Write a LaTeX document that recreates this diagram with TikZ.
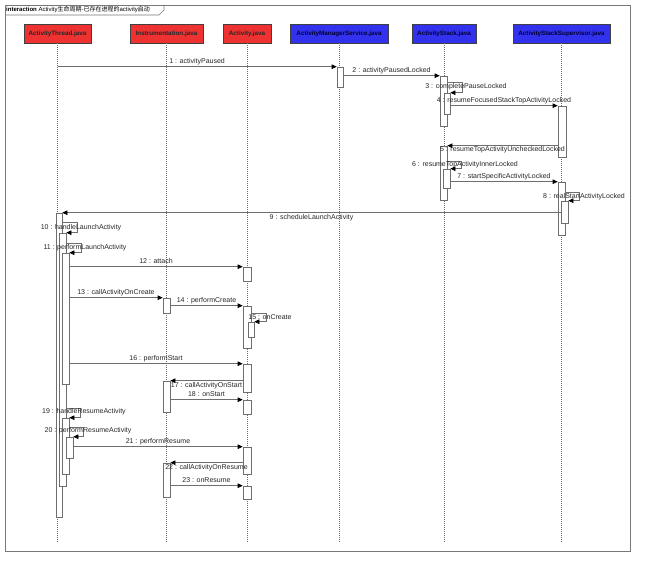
\documentclass[tikz,border=0pt]{standalone}
\usepackage{fontspec}
\setmainfont{Liberation Sans}
\newfontfamily\cjk{Noto Sans CJK SC}
\usetikzlibrary{arrows.meta,fit}
\definecolor{hdrred}{RGB}{238,50,50}
\definecolor{hdrblue}{RGB}{50,50,238}
\definecolor{linegray}{RGB}{110,110,110}
\definecolor{framegray}{RGB}{120,120,120}
\begin{document}
\begin{tikzpicture}[x=1pt,y=-1pt,
  hdr/.style={draw=black!75, line width=0.5pt, minimum height=19pt, inner sep=0pt,
    font=\fontsize{6.3}{7}\selectfont\bfseries},
  redhdr/.style={hdr, fill=hdrred, text=black!85},
  bluehdr/.style={hdr, fill=hdrblue, text=black!80!blue},
  life/.style={draw=linegray, line width=0.5pt, dash pattern=on 1pt off 1pt},
  actbox/.style={draw=linegray, fill=white, line width=0.6pt, inner sep=0pt},
  msg/.style={draw=linegray, line width=0.6pt, -{Triangle[length=5pt,width=4.5pt,color=black]}},
  lbl/.style={font=\fontsize{7}{8}\selectfont, inner sep=1pt, text height=5pt, text depth=1.5pt, text=black!85},
  frm/.style={draw=framegray, line width=0.7pt}
]
\useasboundingbox (0,0) rectangle (650,572);
% frame
\draw[frm] (5,5) rectangle (630,551);
\draw[frm] (5,15) -- (159,15) -- (164,10) -- (164,5);
\node[anchor=west, inner sep=0pt, font=\fontsize{6}{7}\selectfont] (title) at (6,10)
  {{\bfseries interaction} Activity{\cjk 生命周期-已存在进程的}activity{\cjk 启动}};

% headers
\node[redhdr, minimum width=67pt] (h1) at (57.5,33.5) {ActivityThread.java};
\node[redhdr, minimum width=73pt] (h2) at (166.5,33.5) {Instrumentation.java};
\node[redhdr, minimum width=48pt] (h3) at (247,33.5) {Activity.java};
\node[bluehdr, minimum width=98pt] (h4) at (339,33.5) {ActivityManagerService.java};
\node[bluehdr, minimum width=64pt] (h5) at (444,33.5) {ActivityStack.java};
\node[bluehdr, minimum width=97pt] (h6) at (561.5,33.5) {ActivityStackSupervisor.java};

\coordinate (bot) at (0,543);
\foreach \h in {h1,h2,h3,h4,h5,h6}
  \draw[life] (\h.south) -- (\h.south |- bot);

% activation boxes
\node[actbox, fit={(337,67)(343,87)}] (ams1) {};
\node[actbox, fit={(440,76)(447,126)}] (as1) {};
\node[actbox, fit={(444,93)(450,114)}] (as1b) {};
\node[actbox, fit={(558,106)(566,157)}] (ass1) {};
\node[actbox, fit={(440,146)(447,200)}] (as2) {};
\node[actbox, fit={(443,169)(450,188)}] (as2b) {};
\node[actbox, fit={(558,182)(565,235)}] (ass2) {};
\node[actbox, fit={(561,201)(568,223)}] (ass2b) {};
\node[actbox, fit={(56,213)(62,517)}] (at1) {};
\node[actbox, fit={(59,233)(66,486)}] (at2) {};
\node[actbox, fit={(62,253)(69,384)}] (at3) {};
\node[actbox, fit={(243,267)(251,281)}] (act1) {};
\node[actbox, fit={(163,298)(170,313)}] (in1) {};
\node[actbox, fit={(243,306)(251,348)}] (act2) {};
\node[actbox, fit={(248,322)(254,337)}] (act2b) {};
\node[actbox, fit={(243,364)(251,392)}] (act3) {};
\node[actbox, fit={(163,381)(170,412)}] (in2) {};
\node[actbox, fit={(243,400)(251,414)}] (act4) {};
\node[actbox, fit={(62,418)(69,474)}] (at4) {};
\node[actbox, fit={(66,437)(73,458)}] (at5) {};
\node[actbox, fit={(243,447)(251,474)}] (act5) {};
\node[actbox, fit={(163,463)(170,497)}] (in3) {};
\node[actbox, fit={(243,486)(251,499)}] (act6) {};

% messages
\draw[msg] (h1.south |- ams1.north west) -- node[midway, above, lbl] {1 : activityPaused} (ams1.north west);
\draw[msg] (ams1.east |- as1.north west) -- node[midway, above, lbl] {2 : activityPausedLocked} (as1.north west);
\draw[msg] (as1.east |- 0,82) -- ++(15,0) |- (as1b.north east);
\node[lbl] (l3) at (466,87) {3 : completePauseLocked};
\draw[msg] (as1b.east |- ass1.north west) -- node[midway, above, lbl] {4 : resumeFocusedStackTopActivityLocked} (ass1.north west);
\draw[msg] (ass1.west |- as2.north east) -- node[midway, below, lbl] {5 : resumeTopActivityUncheckedLocked} (as2.north east);
\draw[msg] (as2.east |- 0,161) -- ++(14,0) |- (as2b.north east);
\node[lbl] (l6) at (465,165) {6 : resumeTopActivityInnerLocked};
\draw[msg] (as2b.east |- ass2.north west) -- node[midway, above, lbl] {7 : startSpecificActivityLocked} (ass2.north west);
\draw[msg] (ass2.east |- 0,192) -- ++(14,0) |- (ass2b.north east);
\node[lbl] (l8) at (584,197) {8 : realStartActivityLocked};
\draw[msg] (ass2b.west |- at1.north east) -- node[midway, below, lbl] {9 : scheduleLaunchActivity} (at1.north east);
\draw[msg] (at1.east |- 0,222) -- ++(15,0) |- (at2.north east);
\node[lbl] (l10) at (81,228) {10 : handleLaunchActivity};
\draw[msg] (at2.east |- 0,243) -- ++(15,0) |- (at3.north east);
\node[lbl] (l11) at (85,248) {11 : performLaunchActivity};
\draw[msg] (at3.east |- act1.north west) -- node[midway, above, lbl] {12 : attach} (act1.north west);
\draw[msg] (at3.east |- in1.north west) -- node[midway, above, lbl] {13 : callActivityOnCreate} (in1.north west);
\draw[msg] (in1.east |- act2.north west) -- node[midway, above, lbl] {14 : performCreate} (act2.north west);
\draw[msg] (act2.east |- 0,313) -- ++(15,0) |- (act2b.north east);
\node[lbl] (l15) at (270,318) {15 : onCreate};
\draw[msg] (at3.east |- act3.north west) -- node[midway, above, lbl] {16 : performStart} (act3.north west);
\draw[msg] (act3.west |- in2.north east) -- node[midway, below, lbl] {17 : callActivityOnStart} (in2.north east);
\draw[msg] (in2.east |- act4.north west) -- node[midway, above, lbl] {18 : onStart} (act4.north west);
\draw[msg] (at2.east |- 0,408) -- ++(14,0) |- (at4.north east);
\node[lbl] (l19) at (84,412) {19 : handleResumeActivity};
\draw[msg] (at4.east |- 0,427) -- ++(14,0) |- (at5.north east);
\node[lbl] (l20) at (88,431) {20 : performResumeActivity};
\draw[msg] (at5.east |- act5.north west) -- node[midway, above, lbl] {21 : performResume} (act5.north west);
\draw[msg] (act5.west |- in3.north east) -- node[midway, below, lbl] {22 : callActivityOnResume} (in3.north east);
\draw[msg] (in3.east |- act6.north west) -- node[midway, above, lbl] {23 : onResume} (act6.north west);
\end{tikzpicture}
\end{document}
